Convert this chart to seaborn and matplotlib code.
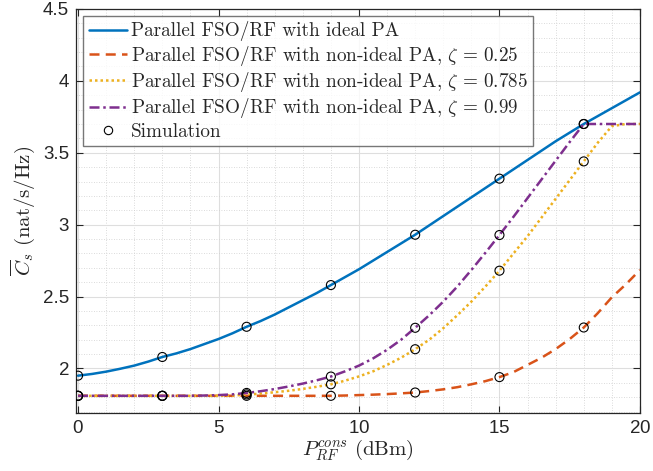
import numpy as np
import pandas as pd
import matplotlib
matplotlib.use('Agg')
import matplotlib.pyplot as plt
import seaborn as sns
from matplotlib.lines import Line2D
from matplotlib.ticker import MultipleLocator

# curve values (every 0.5 dBm)
p_rf = [i * 0.5 for i in range(41)]
c_ideal = [1.95, 1.962, 1.978, 1.998, 2.02, 2.048, 2.08, 2.105, 2.135, 2.17,
           2.205, 2.245, 2.29, 2.33, 2.375, 2.425, 2.475, 2.525, 2.58, 2.635,
           2.69, 2.75, 2.81, 2.87, 2.93, 2.995, 3.06, 3.125, 3.19, 3.255,
           3.32, 3.385, 3.45, 3.515, 3.58, 3.64, 3.70, 3.755, 3.81, 3.865, 3.92]
c_z025 = [1.81] * 19 + [1.812, 1.815, 1.818, 1.822, 1.827, 1.833, 1.843, 1.855,
                        1.87, 1.89, 1.912, 1.94, 1.975, 2.025, 2.075, 2.135,
                        2.205, 2.285, 2.385, 2.495, 2.585, 2.685]
c_z0785 = [1.81] * 11 + [1.812, 1.818, 1.825, 1.835, 1.845, 1.858, 1.873, 1.89,
                         1.915, 1.945, 1.98, 2.025, 2.075, 2.134, 2.2, 2.28,
                         2.37, 2.465, 2.57, 2.68, 2.8, 2.92, 3.05, 3.18, 3.31,
                         3.44, 3.57, 3.685, 3.70, 3.70]
c_z099 = [1.81] * 9 + [1.812, 1.815, 1.82, 1.83, 1.842, 1.857, 1.875, 1.895,
                       1.918, 1.944, 1.98, 2.02, 2.07, 2.13, 2.2, 2.283, 2.37,
                       2.465, 2.57, 2.685, 2.805, 2.928, 3.055, 3.185, 3.315,
                       3.445, 3.575, 3.70, 3.70, 3.70, 3.70, 3.70]

# simulation points
p_sim = [0, 3, 6, 9, 12, 15, 18]
sim_ideal = [1.95, 2.08, 2.29, 2.58, 2.93, 3.32, 3.70]
sim_z025 = [1.81, 1.81, 1.81, 1.81, 1.833, 1.94, 2.285]
sim_z0785 = [1.81, 1.81, 1.82, 1.89, 2.134, 2.68, 3.44]
sim_z099 = [1.81, 1.81, 1.83, 1.944, 2.283, 2.928, 3.70]

labels = ['Parallel FSO/RF with ideal PA',
          r'Parallel FSO/RF with non-ideal PA, $\zeta\,=\,0.25$',
          r'Parallel FSO/RF with non-ideal PA, $\zeta\,=\,0.785$',
          r'Parallel FSO/RF with non-ideal PA, $\zeta\,=\,0.99$']
colors = ['#0072BD', '#D95319', '#EDB120', '#7E2F8E']
styles = ['-', (0, (4, 2.5)), (0, (1, 1.2)), (0, (4, 1.5, 1, 1.5))]

sns.set_style('ticks')
plt.rcParams['font.family'] = ['cmr10', 'DejaVu Serif']
plt.rcParams['mathtext.fontset'] = 'cm'
plt.rcParams['axes.formatter.use_mathtext'] = True

fig, ax = plt.subplots(figsize=(6.53, 4.71), dpi=100)
fig.subplots_adjust(left=0.1165, right=0.98, top=0.981, bottom=0.123)

curves = [c_ideal, c_z025, c_z0785, c_z099]
sims = [sim_ideal, sim_z025, sim_z0785, sim_z099]
handles = []
for y, lab, col, ls in zip(curves, labels, colors, styles):
    sns.lineplot(x=p_rf, y=y, ax=ax, color=col, linewidth=1.8, linestyle=ls)
    handles.append(Line2D([], [], color=col, linewidth=1.8, linestyle=ls, label=lab))

sim_df = pd.DataFrame({'p': p_sim * 4, 'c': sum(sims, [])})
sns.scatterplot(data=sim_df, x='p', y='c', ax=ax, marker='o', s=42,
                facecolor='none', edgecolor='black', linewidth=0.8, zorder=5)
handles.append(Line2D([], [], marker='o', linestyle='none', markersize=6,
                      markerfacecolor='none', markeredgecolor='black',
                      markeredgewidth=0.8, label='Simulation'))

ax.set_xlim(-0.07, 20)
ax.set_ylim(1.69, 4.5)
ax.xaxis.set_major_locator(MultipleLocator(5))
ax.xaxis.set_minor_locator(MultipleLocator(1))
ax.yaxis.set_minor_locator(MultipleLocator(0.1))
ax.set_yticks([2, 2.5, 3, 3.5, 4, 4.5])
ax.set_yticklabels(['2', '2.5', '3', '3.5', '4', '4.5'])
ax.grid(which='major', color='#dedede', linewidth=0.8)
ax.grid(which='minor', color='#cfcfcf', linewidth=0.6, linestyle=(0, (1, 2)))
ax.set_axisbelow(True)
ax.tick_params(which='both', direction='in', top=True, right=True)
ax.tick_params(which='major', length=5, labelsize=13.5, pad=5)
ax.tick_params(which='minor', length=0)
for lbl in ax.get_xticklabels() + ax.get_yticklabels():
    lbl.set_family('Liberation Sans')
for sp in ax.spines.values():
    sp.set_linewidth(0.9)
    sp.set_color('#262626')

ax.set_xlabel(r'$P_{RF}^{cons}\ \mathrm{(dBm)}$', fontsize=15, labelpad=0)
ax.set_ylabel(r'$\overline{C}_s\ \mathrm{(nat/s/Hz)}$', fontsize=15, labelpad=4)

leg = ax.legend(handles=handles, loc='upper left', fontsize=13.8,
                frameon=True, fancybox=False, borderaxespad=0.35,
                handlelength=2.0, handletextpad=0.2, labelspacing=0.12,
                borderpad=0.3)
leg.get_frame().set_edgecolor('#555555')
leg.get_frame().set_linewidth(1.0)

fig.savefig('out.png', dpi=100)
